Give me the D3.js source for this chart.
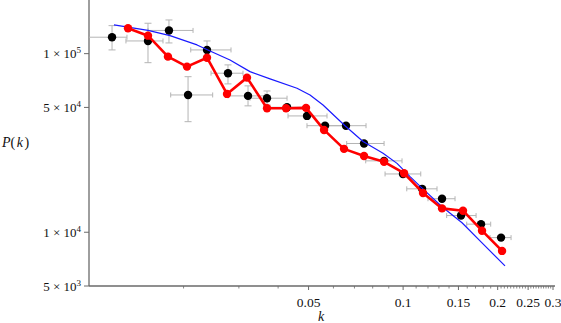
<!DOCTYPE html>
<html>
<head>
<meta charset="utf-8">
<script src="https://cdn.jsdelivr.net/npm/d3@7"></script>
<style>
  body { margin: 0; background: #fff; }
  svg { display: block; }
</style>
</head>
<body>
<div id="main_plot"></div>
<script>
// measured points (black, with error bars)
const kBlack   = [0.01184, 0.01541, 0.01797, 0.02067, 0.02375, 0.0277, 0.03208, 0.03687, 0.0427, 0.04943,
                  0.05642, 0.06579, 0.07508, 0.08696, 0.0999, 0.1149, 0.1330, 0.1529, 0.1770, 0.2050];
const pBlack   = [123600, 117800, 134900, 58700, 104900, 77700, 58000, 56300, 50100, 44800,
                  39500, 39500, 31400, 25100, 21200, 17500, 15400, 12400, 11100, 9330];
const pBlackLo = [104900, 89000, 114800, 41600, 94600, 67700, 51000, 51600, null, null,
                  null, null, null, null, null, null, null, null, null, null];
const pBlackHi = [143500, 148000, 154400, 74300, 117800, 86500, 66000, 61800, null, null,
                  null, null, null, null, null, null, null, null, null, null];
const kBlackLo = [0.0099, 0.01311, 0.01541, 0.0182, 0.02108, 0.02446, 0.0277, 0.03255, 0.03715, 0.04301,
                  0.04943, 0.05724, 0.06612, 0.07602, 0.08759, 0.1027, 0.1200, 0.1376, 0.1594, 0.1891];
const kBlackHi = [0.01321, 0.0172, 0.02144, 0.02476, 0.02832, 0.03092, 0.03634, 0.0427, 0.04872, 0.05724,
                  0.06436, 0.07619, 0.08696, 0.0992, 0.1138, 0.1282, 0.1463, 0.1707, 0.1900, 0.2206];

// red series
const kRed = [0.01331, 0.01541, 0.01784, 0.02051, 0.02375, 0.0275, 0.03184, 0.03687, 0.04239, 0.04908,
              0.05601, 0.06483, 0.07508, 0.08696, 0.1007, 0.1157, 0.1330, 0.1551, 0.1783, 0.2065];
const pRed = [138700, 126100, 96200, 84600, 94900, 59500, 73400, 49500, 49500, 49700,
              37400, 29300, 26700, 24800, 21400, 16600, 13600, 13200, 10200, 7860];

// blue curve
const kBlue = [0.01201, 0.01541, 0.01811, 0.02208, 0.02428, 0.02811, 0.03255, 0.0377, 0.04594, 0.05053,
               0.05559, 0.0616, 0.06531, 0.07454, 0.0863, 0.09563, 0.1052, 0.1140, 0.1330, 0.1540,
               0.1770, 0.2110];
const pBlue = [144800, 134900, 126100, 111900, 103500, 92200, 79300, 72200, 64000, 58700,
               51600, 43500, 39500, 32200, 27700, 24300, 20500, 17900, 13900, 11300,
               8830, 6480];

const xMajor = [0.05, 0.1, 0.15, 0.2, 0.25, 0.3];
const xMajorLabels = ["0.05", "0.1", "0.15", "0.2", "0.25", "0.3"];
const yTicks = [5000, 10000, 50000, 100000];
const yTickMant = ["5", "1", "5", "1"];
const yTickExp = ["3", "4", "4", "5"];

const W = 561, H = 323;
const margin = {top: 0, right: 8, bottom: 37, left: 89};
const serif = "'Liberation Serif', 'Times New Roman', Times, serif";

const x = d3.scaleLog().domain([0.01, 0.3]).range([margin.left, 553]);
const y = d3.scaleLog().domain([5000, 199700]).range([H - margin.bottom, margin.top]);

const svg = d3.select("#main_plot").append("svg")
  .attr("width", W)
  .attr("height", H)
  .attr("font-family", serif)
  .style("font-family", serif);

const axisColor = "#6a6a6a";

// minor x ticks
let xMinor = d3.range(0.02, 0.2, 0.01).concat(d3.range(0.205, 0.3, 0.005))
  .filter(v => !xMajor.some(m => Math.abs(m - v) < 1e-6));

const xAxisG = svg.append("g")
  .attr("transform", "translate(0," + y.range()[0] + ")");

xAxisG.append("line")
  .attr("x1", x.range()[0]).attr("x2", 555)
  .attr("stroke", axisColor).attr("stroke-width", 1.3);

xAxisG.selectAll(".minor")
  .data(xMinor)
  .enter().append("line")
  .attr("x1", d => x(d)).attr("x2", d => x(d))
  .attr("y1", 0).attr("y2", 2.5)
  .attr("stroke", axisColor).attr("stroke-width", 0.8);

xAxisG.selectAll(".major")
  .data(xMajor)
  .enter().append("line")
  .attr("x1", d => x(d)).attr("x2", d => x(d))
  .attr("y1", 0).attr("y2", 4)
  .attr("stroke", axisColor).attr("stroke-width", 1);

xAxisG.selectAll(".xlab")
  .data(xMajor)
  .enter().append("text")
  .attr("x", d => x(d))
  .attr("y", 21)
  .attr("text-anchor", "middle")
  .attr("fill", "#111")
  .style("font-size", "13.5px")
  .text((d, i) => xMajorLabels[i]);

// y axis
const yAxisG = svg.append("g");

yAxisG.append("line")
  .attr("x1", x.range()[0]).attr("x2", x.range()[0])
  .attr("y1", 0).attr("y2", y.range()[0])
  .attr("stroke", axisColor).attr("stroke-width", 1.3);

yAxisG.selectAll(".ytick")
  .data(yTicks)
  .enter().append("line")
  .attr("x1", x.range()[0] - 5).attr("x2", x.range()[0])
  .attr("y1", d => y(d)).attr("y2", d => y(d))
  .attr("stroke", axisColor).attr("stroke-width", 1);

let ylab = yAxisG.selectAll(".ylab")
  .data(yTicks)
  .enter().append("text")
  .attr("x", 81)
  .attr("y", d => y(d) + 4.5)
  .attr("text-anchor", "end")
  .attr("fill", "#111")
  .style("font-size", "13px");
ylab.append("tspan").text((d, i) => yTickMant[i] + " \u00d7 10");
ylab.append("tspan")
  .attr("dy", -5)
  .style("font-size", "9px")
  .text((d, i) => yTickExp[i]);

// axis titles
let pl = svg.append("text")
  .attr("x", 2)
  .attr("y", 147)
  .attr("fill", "#111")
  .style("font-size", "14px");
pl.append("tspan").style("font-style", "italic").text("P");
pl.append("tspan").text("(");
pl.append("tspan").attr("dx", 1.5).style("font-style", "italic").text("k");
pl.append("tspan").attr("dx", 1.5).text(")");

svg.append("text")
  .attr("x", 321)
  .attr("y", 321)
  .attr("text-anchor", "middle")
  .attr("fill", "#111")
  .style("font-size", "14px")
  .style("font-style", "italic")
  .text("k");

// error bars
const errColor = "#b4b4b4";
const black = kBlack.map((k, i) => ({
  k: k, p: pBlack[i], kLo: kBlackLo[i], kHi: kBlackHi[i], pLo: pBlackLo[i], pHi: pBlackHi[i]
}));

const errG = svg.append("g")
  .attr("stroke", errColor)
  .attr("stroke-width", 1)
  .attr("fill", "none");

black.forEach(function(d) {
  let cx = x(d.k), cy = y(d.p);
  let x0 = Math.max(x(d.kLo), x.range()[0]), x1 = x(d.kHi);
  errG.append("line").attr("x1", x0).attr("x2", x1).attr("y1", cy).attr("y2", cy);
  errG.append("line").attr("x1", x1).attr("x2", x1).attr("y1", cy - 2.5).attr("y2", cy + 2.5);
  if (x(d.kLo) > x.range()[0]) {
    errG.append("line").attr("x1", x0).attr("x2", x0).attr("y1", cy - 2.5).attr("y2", cy + 2.5);
  }
  if (d.pLo != null) {
    let y0 = y(d.pLo), y1 = y(d.pHi);
    errG.append("line").attr("x1", cx).attr("x2", cx).attr("y1", y0).attr("y2", y1);
    errG.append("line").attr("x1", cx - 3.5).attr("x2", cx + 3.5).attr("y1", y0).attr("y2", y0);
    errG.append("line").attr("x1", cx - 3.5).attr("x2", cx + 3.5).attr("y1", y1).attr("y2", y1);
  }
});

// black points
svg.append("g").selectAll("circle")
  .data(black)
  .enter().append("circle")
  .attr("cx", d => x(d.k))
  .attr("cy", d => y(d.p))
  .attr("r", 4.2)
  .attr("fill", "#000");

// blue curve
const blue = kBlue.map((k, i) => ({k: k, p: pBlue[i]}));
const line = d3.line()
  .curve(d3.curveLinear)
  .x(d => x(d.k))
  .y(d => y(d.p));

svg.append("path")
  .attr("d", line(blue))
  .attr("fill", "none")
  .attr("stroke", "#1a1aff")
  .attr("stroke-width", 1.2)
  .attr("stroke-linejoin", "round");

// red series
const red = kRed.map((k, i) => ({k: k, p: pRed[i]}));

svg.append("path")
  .attr("d", line(red))
  .attr("fill", "none")
  .attr("stroke", "#ff0000")
  .attr("stroke-width", 2.6)
  .attr("stroke-linejoin", "round");

svg.append("g").selectAll("circle")
  .data(red)
  .enter().append("circle")
  .attr("cx", d => x(d.k))
  .attr("cy", d => y(d.p))
  .attr("r", 4.2)
  .attr("fill", "#ff0000");
</script>
</body>
</html>
